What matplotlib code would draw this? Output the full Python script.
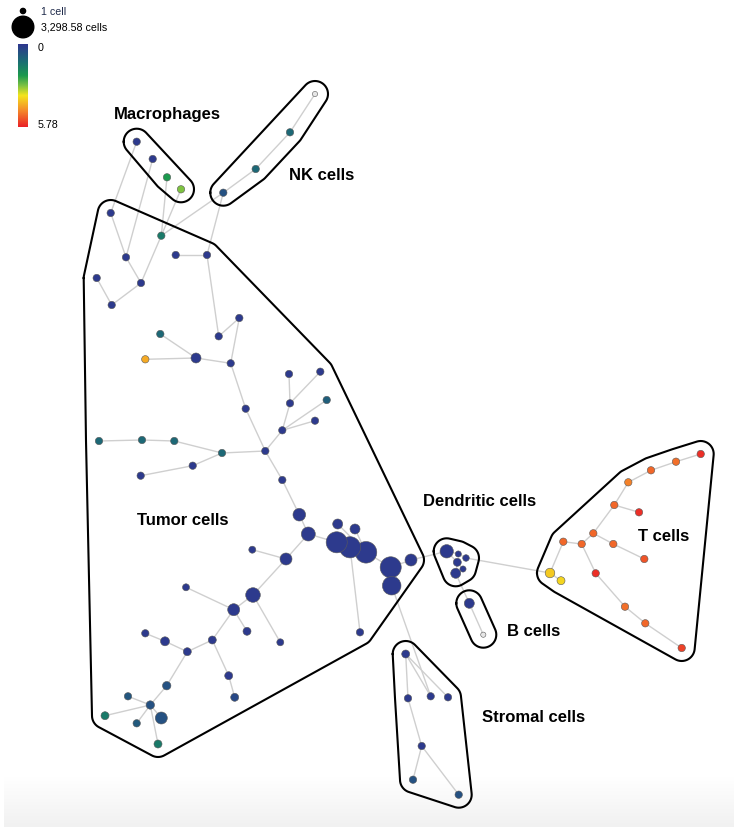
import numpy as np
import matplotlib
matplotlib.use("Agg")
import matplotlib.pyplot as plt
from matplotlib.colors import LinearSegmentedColormap, Normalize
from matplotlib.collections import LineCollection

# ---- SPADE tree: node layout, cell counts and median marker value ----
node_x = [136.7, 152.7, 167.0, 181.0, 315.0, 290.0, 255.7, 223.3, 161.3, 110.7,
          126.0, 141.0, 96.7, 111.7, 175.7, 207.0, 239.3, 218.7, 160.3, 145.3,
          196.0, 230.7, 245.7, 289.0, 320.3, 290.0, 326.7, 315.0, 282.3, 265.3,
          99.0, 142.0, 174.3, 222.0, 192.7, 140.7, 282.3, 299.3, 308.3, 337.7,
          355.0, 336.7, 350.0, 366.0, 390.7, 391.7, 411.0, 360.0, 286.0, 252.3,
          253.0, 186.0, 233.7, 247.0, 280.3, 145.3, 165.0, 187.3, 212.3, 228.7,
          234.7, 166.7, 128.0, 150.3, 105.0, 136.7, 161.3, 158.0,
          446.7, 458.3, 466.0, 457.3, 463.0, 455.7,
          469.3, 483.3,
          405.7, 408.0, 430.7, 448.0, 421.7, 413.0, 458.7,
          550.0, 561.0, 563.3, 581.7, 593.3, 614.3, 628.3, 651.0, 676.0, 700.7,
          639.0, 613.3, 644.3, 595.7, 625.0, 645.3, 681.7]
node_y = [142.7, 160.0, 178.3, 190.3, 95.0, 133.3, 170.0, 193.7, 236.7, 214.0,
          258.3, 284.0, 279.0, 306.0, 256.0, 256.0, 319.0, 337.3, 335.0, 360.3,
          359.0, 364.3, 409.7, 375.0, 372.7, 404.3, 401.0, 421.7, 431.3, 452.0,
          442.0, 441.0, 442.0, 454.0, 466.7, 476.7, 481.0, 515.7, 535.0, 525.0,
          530.0, 543.3, 548.3, 553.3, 568.3, 586.7, 561.0, 633.3, 560.0, 550.7,
          596.0, 588.3, 610.7, 632.3, 643.3, 634.3, 642.3, 652.7, 641.0, 676.7,
          698.3, 686.7, 697.3, 706.0, 716.7, 724.3, 719.0, 745.0,
          552.3, 555.0, 559.0, 563.3, 570.0, 574.3,
          604.3, 635.7,
          655.0, 699.3, 697.3, 698.3, 747.0, 780.7, 795.7,
          574.0, 581.7, 542.7, 545.0, 534.3, 506.0, 483.3, 471.3, 462.7, 455.0,
          513.3, 545.0, 560.0, 574.3, 607.7, 624.3, 649.0]
node_cells = [60, 60, 60, 60, 1, 60, 60, 60, 60, 60,
              60, 60, 60, 60, 60, 60, 60, 60, 60, 60,
              284, 60, 60, 60, 60, 60, 60, 60, 60, 60,
              60, 60, 60, 60, 60, 60, 60, 680, 950, 284,
              284, 3100, 3150, 3298.58, 3100, 2200, 568, 60, 568, 41,
              1090, 41, 568, 97, 41, 60, 178, 97, 97, 97,
              97, 127, 60, 127, 97, 60, 568, 97,
              820, 12, 25, 97, 12, 284,
              284, 1,
              97, 60, 60, 60, 60, 60, 60,
              238, 97, 60, 60, 60, 60, 60, 60, 60, 60,
              60, 60, 60, 60, 60, 60, 60]
nan = float("nan")
node_value = [0.1, 0.1, 2.2, 2.9, nan, 1.1, 1.1, 0.6, 1.5, 0.1,
              0.1, 0.1, 0.1, 0.1, 0.1, 0.1, 0.1, 0.1, 1.1, 4.25,
              0.1, 0.1, 0.1, 0.1, 0.1, 0.1, 0.9, 0.1, 0.1, 0.1,
              1.1, 1.1, 1.1, 1.1, 0.1, 0.1, 0.1, 0.1, 0.1, 0.1,
              0.1, 0.1, 0.1, 0.1, 0.1, 0.1, 0.1, 0.1, 0.1, 0.1,
              0.1, 0.1, 0.1, 0.1, 0.1, 0.1, 0.1, 0.1, 0.1, 0.1,
              0.4, 0.6, 0.7, 0.6, 1.5, 0.8, 0.6, 1.5,
              0.1, 0.1, 0.1, 0.1, 0.1, 0.1,
              0.1, nan,
              0.1, 0.1, 0.1, 0.1, 0.1, 0.6, 0.6,
              3.9, 3.75, 5.0, 5.0, 5.0, 5.0, 4.7, 5.0, 4.9, 5.6,
              5.6, 5.0, 5.2, 5.6, 4.9, 5.0, 5.4]

edges = [(0, 9), (1, 10), (2, 8), (3, 8), (8, 11), (9, 10), (10, 11), (11, 13),
         (12, 13), (8, 7), (7, 6), (6, 5), (5, 4), (7, 15), (14, 15), (15, 17),
         (17, 16), (16, 21), (18, 20), (19, 20), (20, 21), (21, 22), (22, 29),
         (23, 25), (24, 25), (25, 28), (26, 28), (27, 28), (28, 29), (30, 31),
         (31, 32), (32, 33), (34, 33), (35, 34), (33, 29), (29, 36), (36, 37),
         (37, 38), (38, 48), (38, 41), (39, 43), (40, 43), (41, 42), (42, 43),
         (43, 44), (44, 45), (44, 46), (42, 47), (46, 68), (45, 78), (48, 49),
         (48, 50), (50, 52), (50, 54), (52, 51), (52, 53), (52, 58), (55, 56),
         (56, 57), (57, 58), (58, 59), (59, 60), (57, 61), (61, 63), (63, 62),
         (63, 64), (63, 65), (63, 66), (63, 67),
         (68, 71), (68, 69), (69, 70), (71, 73), (71, 72), (70, 83), (73, 74),
         (74, 75),
         (76, 77), (76, 78), (76, 79), (77, 80), (80, 81), (80, 82),
         (83, 85), (85, 86), (86, 87), (87, 88), (88, 89), (89, 90), (90, 91),
         (91, 92), (88, 93), (87, 94), (94, 95), (86, 96), (96, 97), (97, 98),
         (98, 99), (83, 84)]

population_names = ["Macrophages", "NK cells", "Tumor cells", "Dendritic cells",
                    "B cells", "Stromal cells", "T cells"]
population_members = [list(range(0, 4)), list(range(4, 8)), list(range(8, 68)),
                      list(range(68, 74)), [74, 75], list(range(76, 83)),
                      list(range(83, 100))]

value_max = 5.78
cells_max = 3298.58

# ---- styling ----
cmap = LinearSegmentedColormap.from_list(
    "spade", [(0.00, "#2e368f"), (0.22, "#1a7072"), (0.38, "#1c9a4e"),
              (0.50, "#7cc242"), (0.62, "#f4e51d"), (0.80, "#f58a2a"),
              (1.00, "#ea2127")])
cmap.set_bad("#e6e6e6")
norm = Normalize(0, value_max)

R_MIN, R_MAX = 2.6, 10.8


def radius(cells):
    c = np.asarray(cells, dtype=float)
    return R_MIN + (R_MAX - R_MIN) * np.sqrt((c - 1) / (cells_max - 1))


def marker_area(cells):
    # radius in pixels -> scatter area in points^2 (dpi 100)
    return (2 * radius(cells) * 72 / 100) ** 2


def convex_hull(points):
    pts = sorted(set(map(tuple, points)))
    def cross(o, a, b):
        return (a[0] - o[0]) * (b[1] - o[1]) - (a[1] - o[1]) * (b[0] - o[0])
    lower, upper = [], []
    for p in pts:
        while len(lower) >= 2 and cross(lower[-2], lower[-1], p) <= 0:
            lower.pop()
        lower.append(p)
    for p in reversed(pts):
        while len(upper) >= 2 and cross(upper[-2], upper[-1], p) <= 0:
            upper.pop()
        upper.append(p)
    return np.array(lower[:-1] + upper[:-1])


def rounded_hull(xs, ys, pad=13.0, n=48):
    t = np.linspace(0, 2 * np.pi, n, endpoint=False)
    pts = []
    for x, y in zip(xs, ys):
        pts.extend(zip(np.round(x + pad * np.cos(t), 3), np.round(y + pad * np.sin(t), 3)))
    h = convex_hull(pts)
    return np.vstack([h, h[:1]])


fig = plt.figure(figsize=(7.34, 8.28), dpi=100)
ax = fig.add_axes([0, 0, 1, 1])

nx = np.array(node_x)
ny = np.array(node_y)

# soft grey band along the bottom edge
band = np.linspace(0, 1, 64)[:, None]
band_cmap = LinearSegmentedColormap.from_list("band", ["#ffffff", "#f1f1f1"])
ax.imshow(band, extent=[4, 734, 828, 778], cmap=band_cmap, aspect="auto",
          interpolation="bilinear", zorder=0)

# tree edges
segs = [[(nx[a], ny[a]), (nx[b], ny[b])] for a, b in edges]
ax.add_collection(LineCollection(segs, colors="#cfcfcf", linewidths=1.0, zorder=1))

# population outlines
for members in population_members:
    hull = rounded_hull(nx[members], ny[members])
    ax.plot(hull[:, 0], hull[:, 1], color="black", lw=1.5, zorder=2,
            solid_joinstyle="round")

# nodes (largest drawn first)
order = np.argsort(-np.array(node_cells))
vals = np.ma.masked_invalid(np.array(node_value))
ax.scatter(nx[order], ny[order], s=marker_area(np.array(node_cells)[order]),
           c=vals[order], cmap=cmap, norm=norm, edgecolors="#5a5a5a",
           linewidths=0.4, zorder=3, plotnonfinite=True)

# population labels
label_pos = [(167, 114), (322, 175), (183, 521), (480, 502), (534, 632),
             (534, 718), (664, 537)]
for name, (lx, ly) in zip(population_names, label_pos):
    ax.text(lx, ly, name, fontsize=12, fontweight="bold", family="Liberation Sans",
            ha="center", va="center", color="black", zorder=5)

# size legend
ax.scatter([23, 23], [12, 28], s=marker_area([1, cells_max]), color="black", zorder=4)
ax.text(41, 12, "1 cell", fontsize=7.7, family="Liberation Sans", color="#1f2a4a",
        va="center", ha="left")
ax.text(41, 28, f"{cells_max:,.2f} cells", fontsize=7.7, family="Liberation Sans",
        color="black", va="center", ha="left")

# colour legend
grad = np.linspace(0, value_max, 256)[:, None]
ax.imshow(grad, extent=[18, 28, 128, 45], cmap=cmap, norm=norm, aspect="auto",
          interpolation="bilinear", zorder=4)
ax.text(38, 48, "0", fontsize=7.7, family="Liberation Sans", va="center", ha="left")
ax.text(38, 125, f"{value_max:g}", fontsize=7.7, family="Liberation Sans",
        va="center", ha="left")

ax.set_xlim(0, 734)
ax.set_ylim(828, 0)
ax.axis("off")

fig.savefig("out.png", dpi=100)
